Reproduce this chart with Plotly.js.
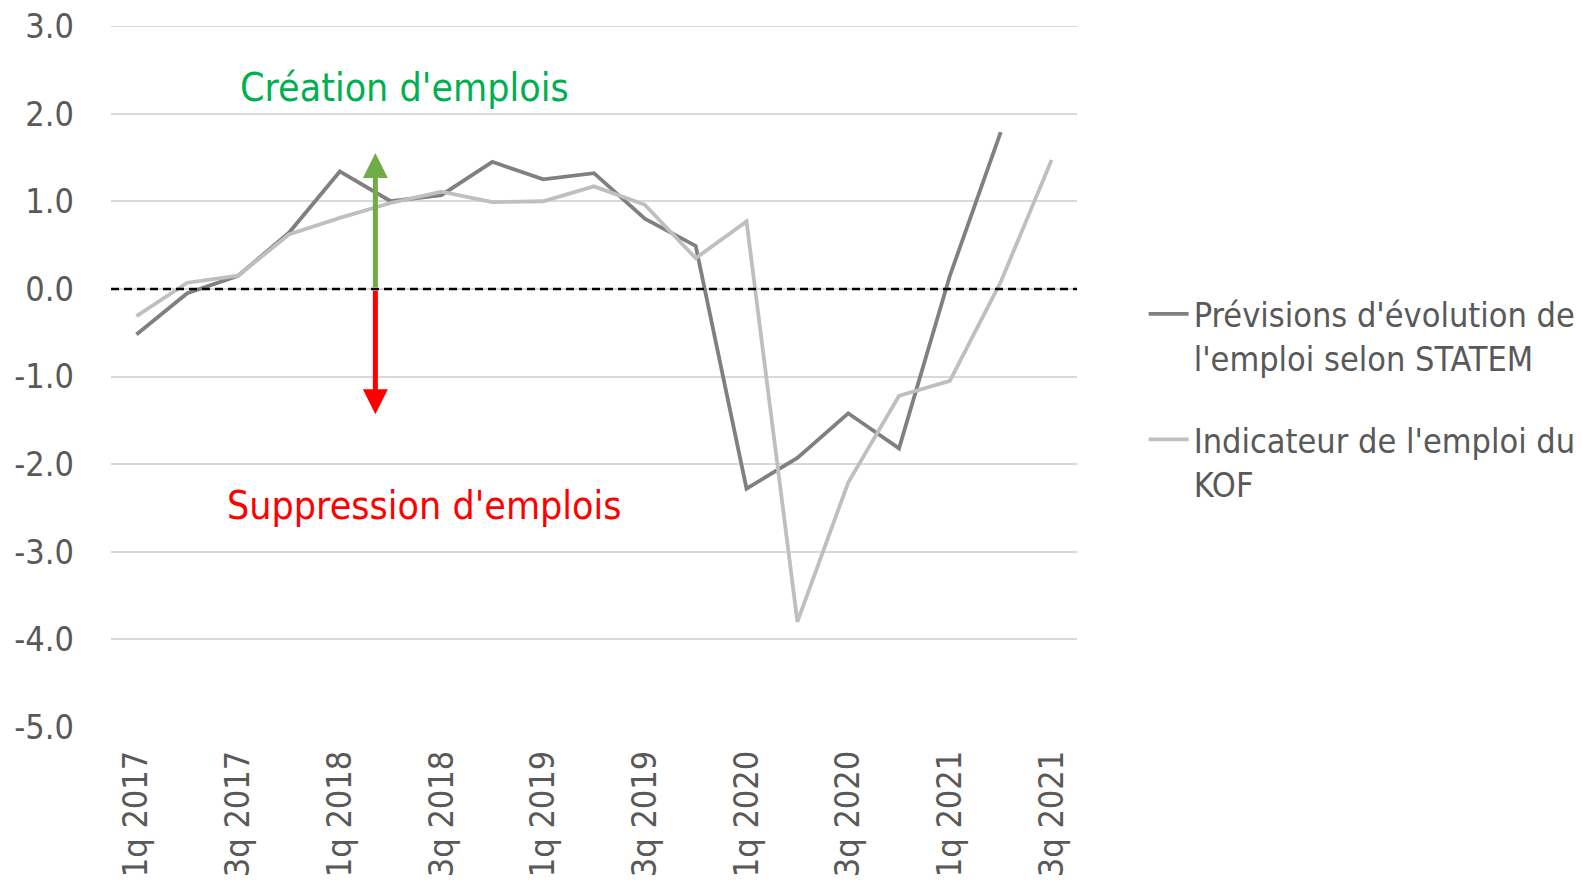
<!DOCTYPE html>
<html>
<head>
<meta charset="utf-8">
<script src="https://cdn.plot.ly/plotly-3.0.1.min.js"></script>
<style>
  body { margin: 0; background: #fff; }
  #chart { width: 1592px; height: 883px; }
</style>
</head>
<body>
<div id="chart"></div>
<script>
let quarters = ["1q 2017", "2q 2017", "3q 2017", "4q 2017",
                "1q 2018", "2q 2018", "3q 2018", "4q 2018",
                "1q 2019", "2q 2019", "3q 2019", "4q 2019",
                "1q 2020", "2q 2020", "3q 2020", "4q 2020",
                "1q 2021", "2q 2021", "3q 2021"];
let shownTicks = quarters.filter((q, i) => i % 2 === 0);

let yTickVals = [3, 2, 1, 0, -1, -2, -3, -4, -5];
let yTickText = ["3.0", "2.0", "1.0", "0.0", "-1.0", "-2.0", "-3.0", "-4.0", "-5.0"];

let statem = [-0.52, -0.05, 0.15, 0.64, 1.34, 1.00, 1.07, 1.45, 1.25, 1.32,
              0.80, 0.49, -2.28, -1.93, -1.42, -1.82, 0.15, 1.79, null];
let kof = [-0.31, 0.07, 0.15, 0.62, 0.81, 0.98, 1.11, 0.99, 1.00, 1.17,
           0.96, 0.35, 0.77, -3.80, -2.21, -1.22, -1.05, 0.08, 1.47];

let font = "'Liberation Sans Narrow', 'Arial Narrow', 'DejaVu Sans Condensed', sans-serif";

let trace1 = {
    x: quarters,
    y: statem,
    type: "scatter",
    mode: "lines",
    name: "Prévisions d'évolution de<br>l'emploi selon STATEM",
    legendgroup: "statem",
    line: {color: "#808080", width: 3.8}
};
let trace2 = {
    x: quarters,
    y: kof,
    type: "scatter",
    mode: "lines",
    name: "Indicateur de l'emploi du<br>KOF",
    legendgroup: "kof",
    line: {color: "#bfbfbf", width: 3.8}
};

let layout = {
    width: 1592,
    height: 883,
    margin: {l: 111, r: 515, t: 26, b: 156, autoexpand: false},
    paper_bgcolor: "#ffffff",
    plot_bgcolor: "#ffffff",
    font: {family: font, color: "#595959", size: 34},
    showlegend: true,
    legend: {
        x: 1.069, y: 0.63, xanchor: "left", yanchor: "top",
        font: {family: font, size: 34, color: "#595959"},
        valign: "top",
        tracegroupgap: 34,
        itemwidth: 40
    },
    xaxis: {
        type: "category",
        range: [-0.5, 18.5],
        tickvals: shownTicks,
        ticktext: shownTicks,
        tickangle: -90,
        showgrid: false,
        showline: false,
        ticks: "",
        tickfont: {family: font, size: 34, color: "#595959"},
        ticklabelstandoff: 16
    },
    yaxis: {
        range: [-5, 3],
        tickvals: yTickVals,
        ticktext: yTickText,
        showgrid: true,
        gridcolor: "#d9d9d9",
        gridwidth: 2,
        zeroline: false,
        showline: false,
        ticks: "",
        tickfont: {family: font, size: 34, color: "#595959"},
        ticklabelstandoff: 36
    },
    shapes: [
        {
            // top gridline, which plotly drops at the range edge
            type: "line", xref: "paper", x0: 0, x1: 1, yref: "y", y0: 3, y1: 3,
            layer: "below", line: {color: "#d9d9d9", width: 2}
        },
        {
            type: "line", xref: "paper", x0: 0, x1: 1, yref: "y", y0: 0, y1: 0,
            line: {color: "#000000", width: 2.5, dash: "8px,5px"}
        }
    ],
    annotations: [
        {
            x: 4.7, y: 1.55, ax: 4.7, ay: 0, xref: "x", yref: "y", axref: "x", ayref: "y",
            text: "", showarrow: true, arrowhead: 2, arrowsize: 1, arrowwidth: 5,
            arrowcolor: "#70ad47"
        },
        {
            x: 4.7, y: -1.43, ax: 4.7, ay: 0, xref: "x", yref: "y", axref: "x", ayref: "y",
            text: "", showarrow: true, arrowhead: 2, arrowsize: 1, arrowwidth: 5,
            arrowcolor: "#ff0000"
        },
        {
            x: 5.28, y: 2.3, xref: "x", yref: "y", showarrow: false,
            text: "Création d'emplois",
            font: {family: font, size: 39, color: "#00b050"}
        },
        {
            x: 5.66, y: -2.47, xref: "x", yref: "y", showarrow: false,
            text: "Suppression d'emplois",
            font: {family: font, size: 39, color: "#ff0000"}
        }
    ]
};

Plotly.newPlot("chart", [trace1, trace2], layout, {displayModeBar: false});
</script>
</body>
</html>
